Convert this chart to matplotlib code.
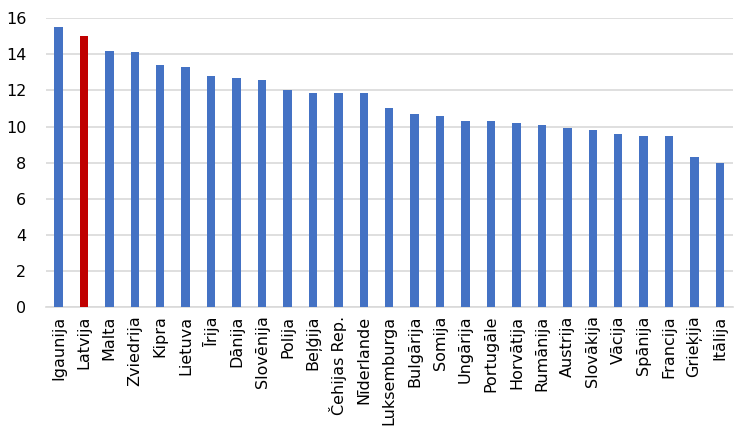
import matplotlib
matplotlib.use("Agg")
import matplotlib.pyplot as plt

countries = ["Igaunija", "Latvija", "Malta", "Zviedrija", "Kipra", "Lietuva", "Īrija",
             "Dānija", "Slovēnija", "Polija", "Beļģija", "Čehijas Rep.", "Nīderlande",
             "Luksemburga", "Bulgārija", "Somija", "Ungārija", "Portugāle", "Horvātija",
             "Rumānija", "Austrija", "Slovākija", "Vācija", "Spānija", "Francija",
             "Grieķija", "Itālija"]
values = [15.5, 15.0, 14.2, 14.1, 13.4, 13.3, 12.8, 12.7, 12.6, 12.0, 11.85, 11.85, 11.85,
          11.0, 10.7, 10.6, 10.3, 10.3, 10.2, 10.1, 9.9, 9.8, 9.6, 9.5, 9.5, 8.3, 8.0]
highlight = "Latvija"
yticks = [0, 2, 4, 6, 8, 10, 12, 14, 16]

blue = "#4472C4"
red = "#C00000"
colors = [red if c == highlight else blue for c in countries]

fig = plt.figure(figsize=(7.5, 4.32), dpi=100)
ax = fig.add_axes([0.061, 0.289, 0.916, 0.669])
x = range(len(countries))
ax.bar(x, values, width=0.33, color=colors, zorder=3)
ax.set_xlim(-0.5, len(countries) - 0.5)
ax.set_ylim(0, 16)
ax.set_yticks(yticks)
ax.set_yticklabels([str(t) for t in yticks], fontsize=11.5, color="#000000")
ax.set_xticks(list(x))
ax.set_xticklabels(countries, rotation=90, fontsize=11.5, color="#000000")
ax.yaxis.grid(True, color="#d9d9d9", linewidth=1.2, zorder=0)
for s in ["top", "right", "left"]:
    ax.spines[s].set_visible(False)
ax.spines["bottom"].set_color("#d9d9d9")
ax.spines["bottom"].set_linewidth(1.2)
ax.tick_params(axis="both", length=0, pad=6)
ax.tick_params(axis="y", pad=14)
fig.savefig("out.png", dpi=100)
